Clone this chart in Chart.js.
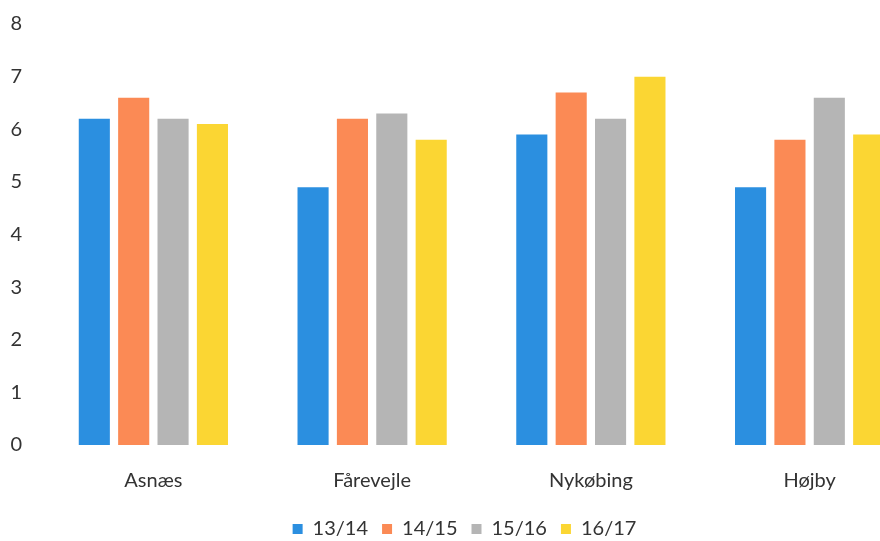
<!DOCTYPE html>
<html>
<head>
<meta charset="utf-8">
<script src="https://cdn.jsdelivr.net/npm/chart.js@4"></script>
<style>
  html, body { margin: 0; padding: 0; background: #fff; overflow: hidden; }
  #wrap { width: 950px; height: 559px; position: relative; top: -10px; }
</style>
</head>
<body>
<div id="wrap"><canvas id="myChart"></canvas></div>
<script>
let sites = ["Asnæs", "Fårevejle", "Nykøbing", "Højby"];
let season1314 = [6.2, 4.9, 5.9, 4.9];
let season1415 = [6.6, 6.2, 6.7, 5.8];
let season1516 = [6.2, 6.3, 6.2, 6.6];
let season1617 = [6.1, 5.8, 7.0, 5.9];
let yTicks = [0, 1, 2, 3, 4, 5, 6, 7, 8];

let fontFamily = "Lato, 'Open Sans', sans-serif";

let ctx = document.getElementById("myChart").getContext("2d");
let data = {
  labels: sites,
  datasets: [
    { label: "13/14", data: season1314, backgroundColor: "#2b8fe0" },
    { label: "14/15", data: season1415, backgroundColor: "#fb8a55" },
    { label: "15/16", data: season1516, backgroundColor: "#b5b5b5" },
    { label: "16/17", data: season1617, backgroundColor: "#fbd633" },
  ],
};

let options = {
  responsive: true,
  maintainAspectRatio: false,
  animation: false,
  barPercentage: 0.79,
  categoryPercentage: 0.72,
  layout: {
    padding: { left: 10, right: 31, top: 14, bottom: 0 },
  },
  plugins: {
    tooltip: { enabled: false },
    legend: {
      position: "bottom",
      labels: {
        boxWidth: 10,
        boxHeight: 10,
        padding: 14,
        color: "#333",
        font: { family: fontFamily, size: 20 },
      },
    },
  },
  scales: {
    x: {
      grid: { display: false, drawTicks: false },
      border: { display: false },
      ticks: {
        padding: 24,
        color: "#333",
        font: { family: fontFamily, size: 20 },
      },
      afterFit: (s) => { s.height = 60; },
    },
    y: {
      min: 0,
      max: 8,
      grid: { display: false, drawTicks: false },
      border: { display: false },
      afterBuildTicks: (s) => { s.ticks = yTicks.map((v) => ({ value: v })); },
      ticks: {
        padding: 22,
        color: "#333",
        font: { family: fontFamily, size: 20 },
      },
      afterFit: (s) => { s.width = 34; },
    },
  },
};

let myChart = new Chart(ctx, {
  type: "bar",
  data: data,
  options: options,
});
</script>
</body>
</html>
